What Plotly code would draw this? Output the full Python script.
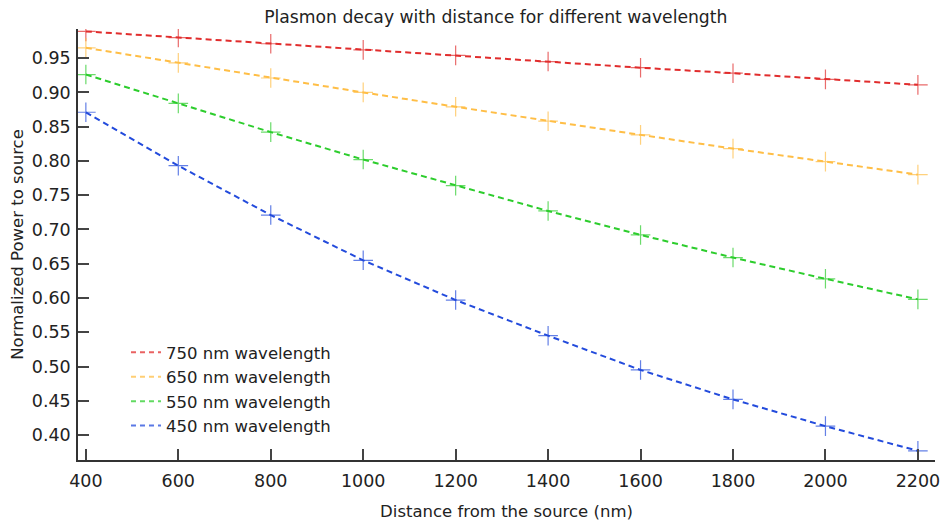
import plotly.graph_objects as go

# Distance from the source (nm)
distance = [400, 600, 800, 1000, 1200, 1400, 1600, 1800, 2000, 2200]

# Normalized power for each wavelength
power_750 = [0.989, 0.980, 0.971, 0.962, 0.954, 0.945, 0.936, 0.928, 0.919, 0.911]
power_650 = [0.965, 0.943, 0.921, 0.900, 0.879, 0.858, 0.838, 0.818, 0.799, 0.780]
power_550 = [0.926, 0.884, 0.842, 0.802, 0.764, 0.727, 0.692, 0.659, 0.628, 0.598]
power_450 = [0.871, 0.793, 0.721, 0.655, 0.597, 0.545, 0.495, 0.452, 0.413, 0.377]

labels = ["750 nm wavelength", "650 nm wavelength", "550 nm wavelength", "450 nm wavelength"]
colors = ["rgb(225,45,45)", "rgb(255,190,70)", "rgb(45,205,45)", "rgb(35,75,220)"]
series = [power_750, power_650, power_550, power_450]

FONT = "DejaVu Sans"
TXT = "#222"

fig = go.Figure()
for name, vals, col in zip(labels, series, colors):
    # dashed curve with thin cross markers at each sample
    fig.add_trace(go.Scatter(
        x=distance, y=vals, name=name, mode="lines+markers",
        legendgroup=name, showlegend=False,
        line=dict(color=col, width=2, dash="6px,4px"),
        marker=dict(symbol="cross-thin", size=14, opacity=0.7,
                    line=dict(color=col, width=1.2)),
    ))
    # legend key: dashed line only
    fig.add_trace(go.Scatter(
        x=[None], y=[None], name=name, mode="lines", legendgroup=name,
        line=dict(color=col, width=2, dash="5px,4px"), opacity=0.75,
    ))

axis_common = dict(
    showgrid=False, zeroline=False, showline=True, linecolor="#333",
    linewidth=1.5, ticks="inside", ticklen=11, tickwidth=1.5, tickcolor="#444",
    mirror=False,
)

fig.update_layout(
    width=948, height=526,
    paper_bgcolor="white", plot_bgcolor="white",
    margin=dict(l=78, r=8, t=29, b=66),
    font=dict(family=FONT, color=TXT),
    title=dict(text="Plasmon decay with distance for different wavelength",
               x=0.523, xanchor="center", y=0.967, yanchor="middle",
               font=dict(size=17.2, family=FONT, color=TXT)),
    xaxis=dict(range=[383, 2237], tickvals=list(range(400, 2201, 200)),
               tickfont=dict(size=17.5, family=FONT, color=TXT),
               ticklabelstandoff=4,
               title=dict(text="Distance from the source (nm)",
                          font=dict(size=16.5, family=FONT, color=TXT), standoff=16),
               **axis_common),
    yaxis=dict(range=[0.3636, 0.9925], tickvals=[0.40, 0.45, 0.50, 0.55, 0.60, 0.65, 0.70,
                                                  0.75, 0.80, 0.85, 0.90, 0.95],
               tickformat=".2f",
               tickfont=dict(size=17.5, family=FONT, color=TXT),
               ticklabelstandoff=2,
               title=dict(text="Normalized Power to source",
                          font=dict(size=16.5, family=FONT, color=TXT), standoff=4),
               **axis_common),
    legend=dict(x=0.056, y=0.29, xanchor="left", yanchor="top",
                bgcolor="rgba(0,0,0,0)", font=dict(size=16.5, family=FONT, color=TXT),
                itemwidth=30, tracegroupgap=0),
    showlegend=True,
)

fig.write_html("out.html")
